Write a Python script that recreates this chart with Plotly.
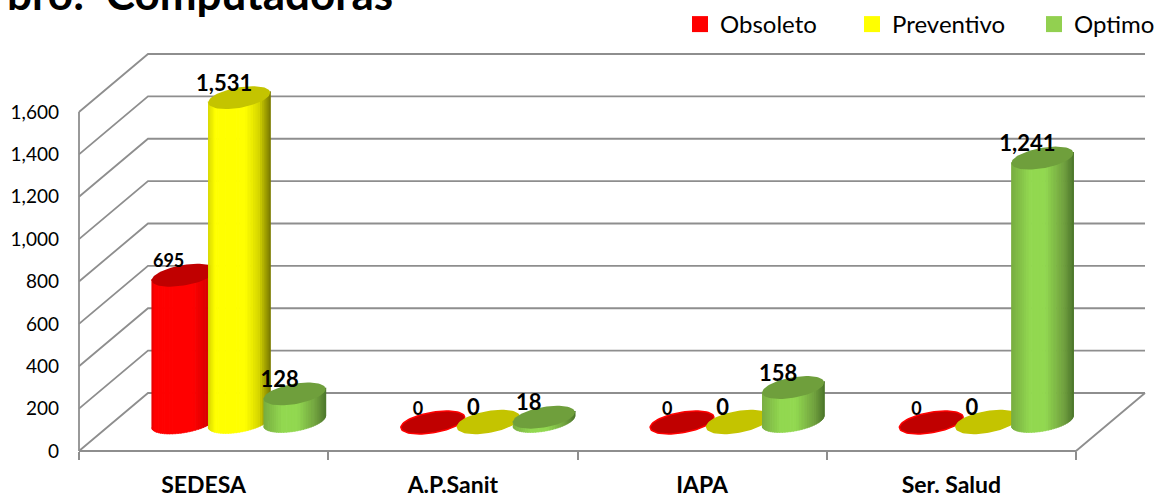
import numpy as np
import plotly.graph_objects as go

# ---- data ----
categories = ["SEDESA", "A.P.Sanit", "IAPA", "Ser. Salud"]
obsoleto = [695, 0, 0, 0]
preventivo = [1531, 0, 0, 0]
optimo = [128, 18, 158, 1241]
y_ticks = [0, 200, 400, 600, 800, 1000, 1200, 1400, 1600]
y_tick_labels = ["0", "200", "400", "600", "800", "1,000", "1,200", "1,400", "1,600"]

W, H = 1156, 496
X0, XSTEP = 79.0, 249.25      # px of category 0 edge, px per category
Y0, YSCALE = 451.0, 339.0 / 1600  # px of value 0, px per value unit
DEPTH_X, DEPTH_Y = 69.0, 58.0

def ux(px):
    return (px - X0) / XSTEP
def uy(px):
    return (Y0 - px) / YSCALE

def lerp_color(stops, f):
    fs = [s[0] for s in stops]
    rgb = [np.interp(f, fs, [s[1][i] for s in stops]) for i in range(3)]
    return "rgb(%d,%d,%d)" % tuple(int(round(c)) for c in rgb)

series = [
    dict(name="Obsoleto", values=obsoleto, legend="#ff0000", top="#c00000", rim="#ff0000",
         off=-20.0, base=422.5, a=32.0, size=18, lid="legend", lx=680,
         grad=[(0, (225, 0, 0)), (.05, (255, 0, 0)), (.65, (255, 0, 0)), (1, (195, 0, 0))]),
    dict(name="Preventivo", values=preventivo, legend="#ffff00", top="#c4c400", rim="#c4c400",
         off=35.5, base=422.0, a=31.0, size=22, lid="legend2", lx=852,
         grad=[(0, (215, 215, 0)), (.12, (255, 255, 0)), (.6, (255, 255, 0)), (.82, (215, 215, 0)), (1, (125, 125, 0))]),
    dict(name="Optimo", values=optimo, legend="#92d050", top="#6f9f3c", rim="#6f9f3c",
         off=91.0, base=421.0, a=31.0, size=22, lid="legend3", lx=1034,
         grad=[(0, (120, 172, 64)), (.3, (146, 216, 80)), (.55, (146, 216, 80)), (.85, (112, 160, 62)), (1, (78, 120, 44))]),
]
B_TILT, B_MINOR = 5.0, 10.3

fig = go.Figure()

def add_line(xs, ys, color="#8e8e8e", width=1.8):
    fig.add_trace(go.Scatter(x=xs, y=ys, mode="lines", line=dict(color=color, width=width),
                             hoverinfo="skip", showlegend=False))

# walls and floor
dxu, dvu = DEPTH_X / XSTEP, DEPTH_Y / YSCALE
xmax = len(categories)
for v in y_ticks:
    add_line([0, dxu, xmax + dxu], [v, v + dvu, v + dvu])
add_line([0, 0], [0, y_ticks[-1]])
add_line([0, xmax, xmax + dxu], [0, 0, dvu])

# cylinders
label_traces = []
for s in series:
    lx, ly, lt = [], [], []
    for g, v in enumerate(s["values"]):
        cx = X0 + g * XSTEP + XSTEP / 2 + s["off"]
        a = s["a"]
        top_y = s["base"] - v * YSCALE
        if v > 0:
            n = 34
            edges = a * np.cos(np.linspace(np.pi, 2 * np.pi, n + 1))
            for i in range(n):
                e1, e2 = edges[i], min(edges[i + 1] + 0.6, a)
                t = np.linspace(np.arccos(np.clip(e1 / a, -1, 1)), np.arccos(np.clip(e2 / a, -1, 1)), 4)
                xs = a * np.cos(t)
                lower = -B_TILT * np.cos(t) + B_MINOR * np.abs(np.sin(t))
                px = np.r_[cx + xs, cx + xs[::-1]]
                py = np.r_[s["base"] + lower, top_y + lower[::-1] - 1]
                f = (0.5 * (e1 + e2) + a) / (2 * a)
                c = lerp_color(s["grad"], f)
                fig.add_trace(go.Scatter(x=ux(px), y=uy(py), mode="lines", fill="toself",
                                         fillcolor=c, line=dict(width=0.6, color=c),
                                         hoverinfo="skip", showlegend=False))
        t = np.linspace(0, 2 * np.pi, 73)
        ex = cx + a * np.cos(t)
        ey = top_y - B_TILT * np.cos(t) + B_MINOR * np.sin(t)
        fig.add_trace(go.Scatter(x=ux(ex), y=uy(ey), mode="lines", fill="toself", fillcolor=s["top"],
                                 line=dict(width=1.5 if v == 0 else 0, color=s["rim"]),
                                 hoverinfo="skip", showlegend=False))
        lx.append(ux(cx - 15))
        ly.append(uy(top_y - 12.5))
        lt.append(f"{v:,}")
    label_traces.append(go.Scatter(x=lx, y=ly, text=lt, mode="text", textposition="middle center",
                                   textfont=dict(family="Lato", size=s["size"], color="#000000", weight="bold"),
                                   hoverinfo="skip", showlegend=False, cliponaxis=False))
for tr in label_traces:
    fig.add_trace(tr)

# legend entries, one small legend each so that each sits where the reference has it
legends = {}
for s in series:
    fig.add_trace(go.Scatter(x=[None], y=[None], mode="markers", name=s["name"], legend=s["lid"],
                             marker=dict(symbol="square", size=16, color=s["legend"])))
    legends[s["lid"]] = dict(x=s["lx"] / W, xanchor="left", y=1 - 2 / H, yanchor="top",
                             font=dict(size=24, family="Lato"), bgcolor="rgba(0,0,0,0)",
                             itemclick=False, itemdoubleclick=False)

fig.add_annotation(text="<b>bro:  Computadoras</b>", xref="paper", yref="paper",
                   x=395 / W, y=1 - 21 / H, xanchor="right", yanchor="bottom", showarrow=False,
                   font=dict(family="Lato", size=44, color="#000000"))

fig.update_layout(
    width=W, height=H, autosize=False,
    margin=dict(l=0, r=0, t=0, b=0, pad=0, autoexpand=False),
    paper_bgcolor="#ffffff", plot_bgcolor="#ffffff",
    font=dict(family="Lato", color="#000000"),
    xaxis=dict(range=[ux(0), ux(W)], domain=[0, 1], anchor="free", position=(H - Y0) / H,
               tickmode="array", tickvals=[i + 0.5 for i in range(len(categories))], ticktext=categories,
               ticks="", showgrid=False, zeroline=False, showline=False, ticklabelstandoff=18,
               tickfont=dict(family="Lato", size=23, weight="bold", color="#000000"),
               minor=dict(tickmode="array", tickvals=list(range(len(categories) + 1)), ticks="outside",
                          ticklen=8, tickwidth=1.6, tickcolor="#8e8e8e", showgrid=False)),
    yaxis=dict(range=[uy(H), uy(0)], domain=[0, 1], anchor="free", position=X0 / W,
               tickmode="array", tickvals=y_ticks, ticktext=y_tick_labels, ticks="",
               showgrid=False, zeroline=False, showline=False, ticklabelstandoff=20,
               tickfont=dict(family="Lato", size=19, color="#000000")),
    **legends,
)
fig.write_html("out.html", config={"displayModeBar": False},
               post_script="document.body.style.margin='0';document.body.style.overflow='hidden';")
